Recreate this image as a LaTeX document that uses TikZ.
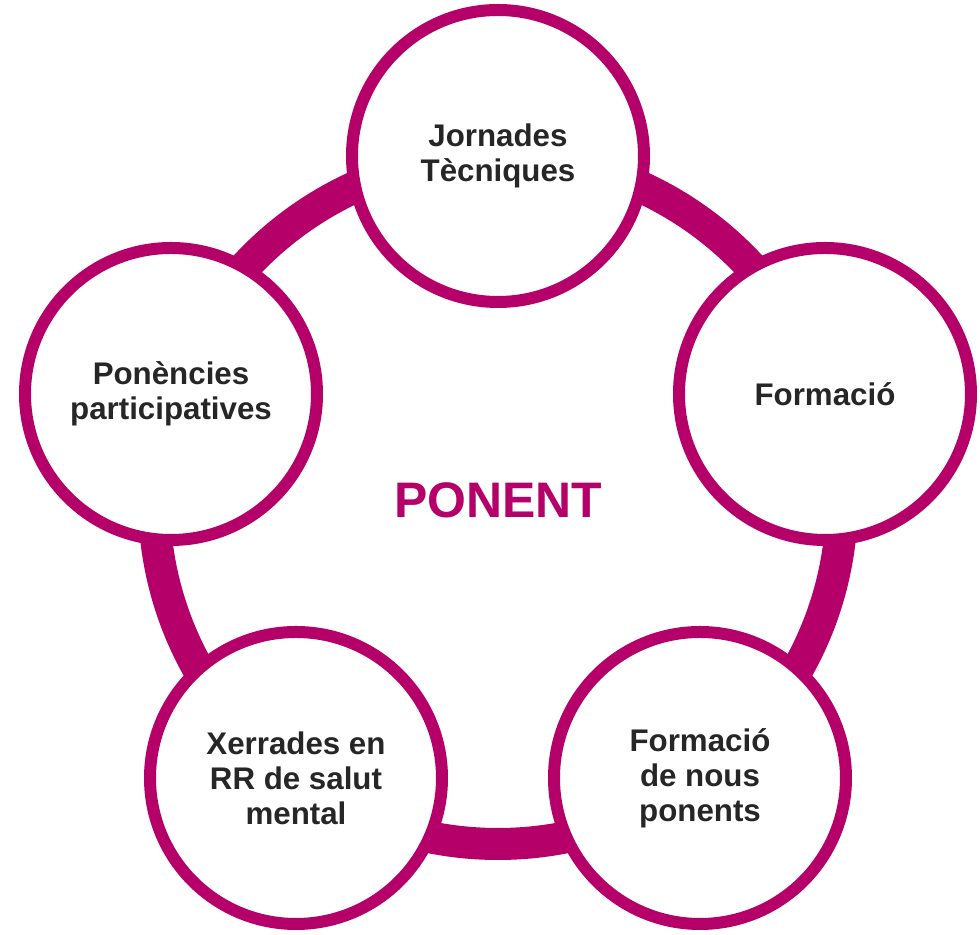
\documentclass[tikz,border=0pt]{standalone}
\usepackage{fontspec}
\setmainfont{Liberation Sans}
\usepackage{tikz}
\usetikzlibrary{shapes.geometric, positioning}
\definecolor{ponent}{RGB}{181,0,106}
\definecolor{textgray}{RGB}{38,38,38}
\tikzstyle{ring} = [circle, draw=ponent, line width=0.32cm, minimum size=6.88cm, text=ponent, font=\bfseries\fontsize{14.2}{16}\selectfont]
\tikzstyle{topic} = [circle, draw=ponent, fill=white, line width=0.12cm, minimum size=2.92cm, text=textgray, text centered, font=\bfseries\fontsize{8.9}{9.96}\selectfont]

\begin{document}
\begin{tikzpicture}[align=center]
\useasboundingbox (0,0) rectangle (9.8,9.35);

\node (cycle) [ring] at (4.98,4.35) {PONENT};

\node (jornades) [topic] at (4.98,7.79) {Jornades\\Tècniques};
\node (formacio) [topic] at (8.25,5.41) {Formació};
\node (nous) [topic] at (7.00,1.57) {Formació\\de nous\\ponents};
\node (xerrades) [topic] at (2.96,1.57) {Xerrades en\\RR de salut\\mental};
\node (ponencies) [topic] at (1.71,5.41) {Ponències\\participatives};
\end{tikzpicture}
\end{document}
